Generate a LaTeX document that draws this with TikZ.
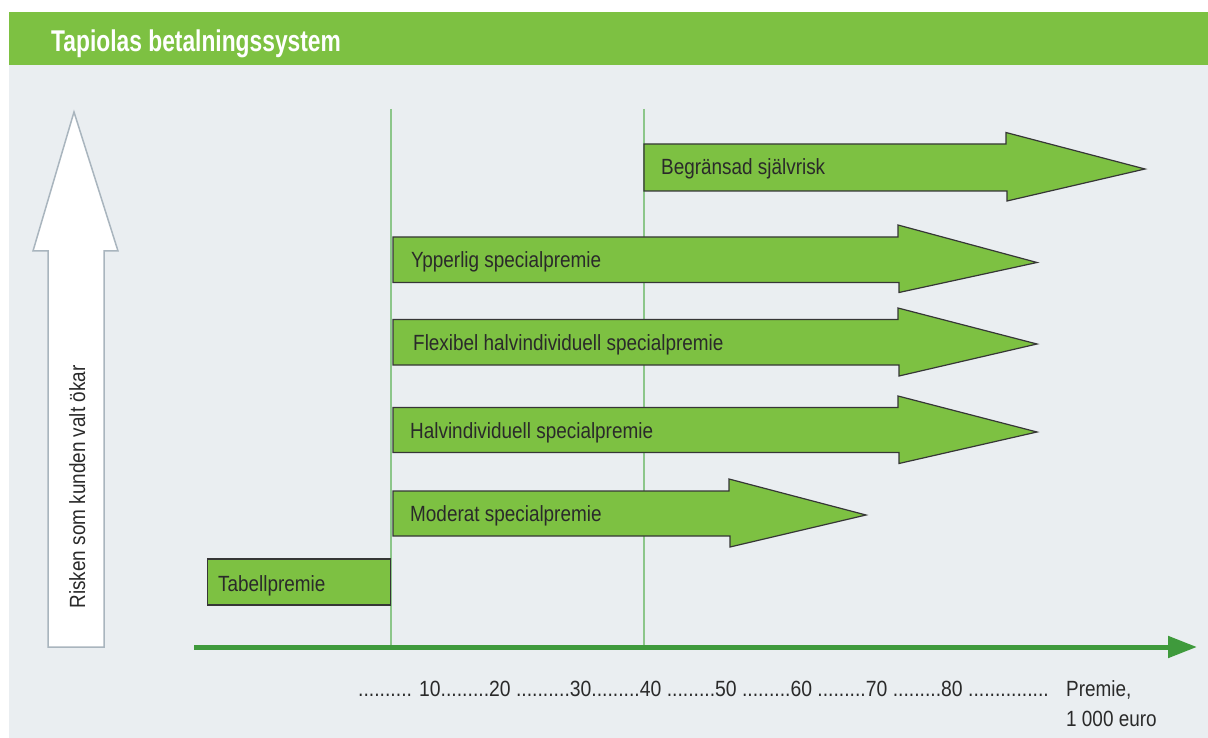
\documentclass[tikz,border=0pt]{standalone}
\usepackage{fontspec}
\setmainfont{Liberation Sans}[FakeStretch=0.86]
\newfontfamily\titlefont{Liberation Sans}[FakeStretch=0.76]
\newfontfamily\scalefont{Liberation Sans}[FakeStretch=0.88]
\usetikzlibrary{arrows.meta}
\definecolor{hdrgreen}{HTML}{7DC142}
\definecolor{bggray}{HTML}{EAEEF1}
\definecolor{axgreen}{HTML}{3F9A3C}
\definecolor{vlgreen}{HTML}{8CC68A}
\definecolor{arrgray}{HTML}{A9B5BE}
\definecolor{txtcol}{HTML}{2A2A2A}
\definecolor{edgecol}{HTML}{363636}
\begin{document}
\begin{tikzpicture}[x=1pt,y=-1pt,
  bigarrow/.style={fill=hdrgreen, draw=edgecol, line width=1.2pt, line join=miter},
  lbl/.style={anchor=base west, text=txtcol, inner sep=0pt, font=\fontsize{22}{25}\selectfont},
  vline/.style={draw=vlgreen, line width=1.5pt}]
\useasboundingbox (0,0) rectangle (1208,738);
% header and background
\fill[hdrgreen] (9,12) rectangle (1208,65);
\fill[bggray] (9,65) rectangle (1208,738);
\node[anchor=base west, inner sep=0pt, text=white, font=\titlefont\bfseries\fontsize{30}{33}\selectfont] (title) at (51,52) {Tapiolas betalningssystem};
% left risk arrow
\draw[fill=white, draw=arrgray, line width=1.5pt, line join=miter] (48,647) -- (48,251) -- (33,251) -- (74,112) -- (118,251) -- (104,251) -- (104,647) -- cycle;
\node[anchor=base, rotate=90, inner sep=0pt, text=txtcol, font=\fontsize{22}{25}\selectfont] (risk) at (85,487) {Risken som kunden valt ökar};
% vertical guide lines
\coordinate (v1t) at (391,109); \coordinate (v1b) at (391,647);
\coordinate (v2t) at (644,109); \coordinate (v2b) at (644,647);
\draw[vline] (v1t) -- (v1b);
\draw[vline] (v2t) -- (v2b);
% axis
\coordinate (axs) at (194,647); \coordinate (axe) at (1197,647);
\draw[axgreen, line width=5pt, -{Triangle[length=29pt,width=21pt]}] (axs) -- (axe);
% green arrows
\draw[bigarrow] (644,144) -- (1006,144) -- (1006,132.5) -- (1145,169) -- (1007,201) -- (1007,191) -- (644,191) -- cycle;
\node[lbl] (beg) at (661,175) {Begränsad självrisk};
\draw[bigarrow] (393,237) -- (898,237) -- (898,225) -- (1037,262.5) -- (899,292.5) -- (899,282.5) -- (393,282.5) -- cycle;
\node[lbl] (ypp) at (411,267.5) {Ypperlig specialpremie};
\draw[bigarrow] (393,319.5) -- (898,319.5) -- (898,308) -- (1037,344) -- (899,376) -- (899,365) -- (393,365) -- cycle;
\node[lbl] (flex) at (413,350) {Flexibel halvindividuell specialpremie};
\draw[bigarrow] (393,407.5) -- (898,407.5) -- (898,396) -- (1037,432) -- (899,463.5) -- (899,452.5) -- (393,452.5) -- cycle;
\node[lbl] (halv) at (410,438) {Halvindividuell specialpremie};
\draw[bigarrow] (393,491) -- (729,491) -- (729,479) -- (866,515) -- (730,547) -- (730,536) -- (393,536) -- cycle;
\node[lbl] (mod) at (410,521) {Moderat specialpremie};
\draw[bigarrow] (207.5,559) rectangle (390.5,605);
\node[lbl] (tab) at (218,591) {Tabellpremie};
% axis labels
\node[lbl, font=\scalefont\fontsize{22}{25}\selectfont] (scale) at (358,696) {.......... 10.........20 ..........30.........40 .........50 .........60 .........70 .........80 ...............};
\node[lbl] (prem) at (1066,696) {Premie,};
\node[lbl] (euro) at (1066,726) {1 000 euro};
\end{tikzpicture}
\end{document}
